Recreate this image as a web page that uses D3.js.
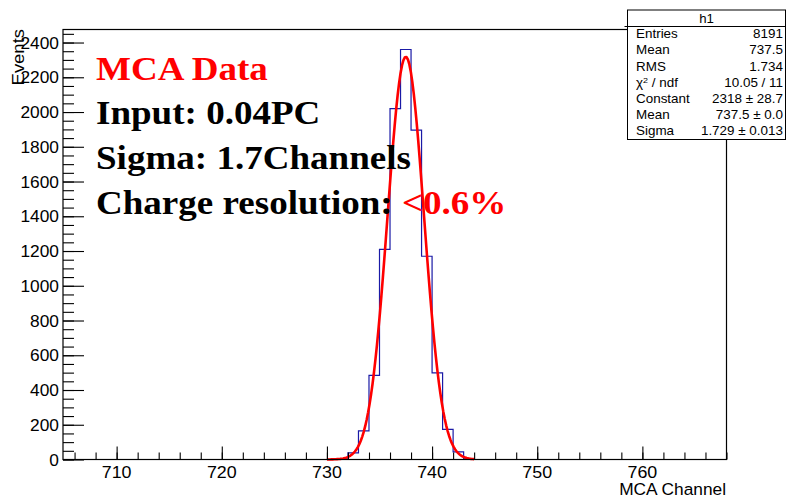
<!DOCTYPE html>
<html>
<head>
<meta charset="utf-8">
<script src="https://cdn.jsdelivr.net/npm/d3@7"></script>
<style>
  body { margin: 0; background: #fff; }
  svg { display: block; }
</style>
</head>
<body>
<div id="chart"></div>
<script>
// histogram bins (lower edge of each 1-channel bin) and their counts
const binLow = [731, 732, 733, 734, 735, 736, 737, 738, 739, 740, 741, 742, 743];
const counts = [3, 38, 165, 484, 1210, 2020, 2360, 1896, 1170, 499, 173, 44, 4];

// gaus fit parameters as shown in the stats box, and the fit range
const fitParams = { constant: 2318, mean: 737.5, sigma: 1.729 };
const fitRange = [730, 744];

const xTicks = [710, 720, 730, 740, 750, 760];
const yTicks = [0, 200, 400, 600, 800, 1000, 1200, 1400, 1600, 1800, 2000, 2200, 2400];

const statsLabels = ["Entries", "Mean", "RMS", "χ2 / ndf", "Constant", "Mean", "Sigma"];
const statsValues = ["8191", "737.5", "1.734", "10.05 / 11", "2318 ± 28.7", "737.5 ± 0.0", "1.729 ± 0.013"];

const W = 786, H = 499;
const m = { left: 63, right: 59.5, top: 29.5, bottom: 39.5 };
const sans = "'Liberation Sans', Arial, Helvetica, sans-serif";
const serif = "'Liberation Serif', 'Times New Roman', serif";

const svg = d3.select("#chart").append("svg")
    .attr("width", W)
    .attr("height", H)
    .style("background", "#fff");

const x = d3.scaleLinear().domain([704.9, 768]).range([m.left, W - m.right]);
const y = d3.scaleLinear().domain([0, 2475]).range([H - m.bottom, m.top]);

// text with a slight horizontal stretch, like the reference
function label(g, tx, ty, str, size, anchor, sx, family) {
    return g.append("text")
        .attr("transform", `translate(${tx},${ty}) scale(${sx},1)`)
        .attr("text-anchor", anchor)
        .style("font-family", family || sans)
        .style("font-size", size + "px")
        .text(str);
}

// histogram as one step outline (no inner bin walls)
const outline = [[x.domain()[0], 0]];
let prev = 0;
binLow.forEach((b, i) => {
    outline.push([b, prev]);
    outline.push([b, counts[i]]);
    prev = counts[i];
});
const lastEdge = binLow[binLow.length - 1] + 1;
outline.push([lastEdge, prev]);
outline.push([lastEdge, 0]);
outline.push([x.domain()[1], 0]);

svg.append("path")
    .attr("d", d3.line().x(d => x(d[0])).y(d => y(d[1]))(outline))
    .attr("fill", "none")
    .attr("stroke", "#1a1aa6")
    .attr("stroke-width", 1.2);

// fit curve, 100 points over the fit range like ROOT's TF1
const fitPts = d3.range(0, 101).map(i => {
    const xv = fitRange[0] + (fitRange[1] - fitRange[0]) * i / 100;
    const z = (xv - fitParams.mean) / fitParams.sigma;
    return [xv, fitParams.constant * Math.exp(-0.5 * z * z)];
});
svg.append("path")
    .attr("d", d3.line().x(d => x(d[0])).y(d => y(d[1]))(fitPts))
    .attr("fill", "none")
    .attr("stroke", "#ff0000")
    .attr("stroke-width", 2.6)
    .attr("stroke-linejoin", "round");

// frame
svg.append("rect")
    .attr("x", m.left).attr("y", m.top)
    .attr("width", W - m.left - m.right).attr("height", H - m.top - m.bottom)
    .attr("fill", "none").attr("stroke", "#000").attr("stroke-width", 1.2);

// x axis ticks
const xAxis = svg.append("g").attr("transform", `translate(0,${H - m.bottom})`);
xAxis.call(d3.axisBottom(x).tickValues(d3.range(706, 768.1, 2)).tickSize(-7).tickFormat(""))
    .call(g => g.select(".domain").remove());
xAxis.append("g").call(d3.axisBottom(x).tickValues(xTicks).tickSize(-13).tickFormat(""))
    .call(g => g.select(".domain").remove());
xAxis.selectAll("line").attr("stroke", "#000").attr("stroke-width", 1.1);
xTicks.forEach(t => label(svg, x(t), 477.5, t, 17, "middle", 1.05));

// y axis ticks
const yAxis = svg.append("g").attr("transform", `translate(${m.left},0)`);
yAxis.call(d3.axisLeft(y).tickValues(d3.range(0, 2451, 50)).tickSize(-11).tickFormat(""))
    .call(g => g.select(".domain").remove());
yAxis.append("g").call(d3.axisLeft(y).tickValues(yTicks).tickSize(-21).tickFormat(""))
    .call(g => g.select(".domain").remove());
yAxis.selectAll("line").attr("stroke", "#000").attr("stroke-width", 1.1);
yTicks.forEach(t => label(svg, 59, y(t) + 6, t, 16.5, "end", 1.05));

// axis titles
label(svg, 726, 495, "MCA Channel", 16.5, "end", 1.05);
svg.append("text")
    .attr("transform", `translate(24,29) rotate(-90) scale(1.12,1)`)
    .attr("text-anchor", "end")
    .style("font-family", sans)
    .style("font-size", "16.5px")
    .text("Events");

// annotation block
const note = svg.append("g").style("font-weight", "bold");
label(note, 96, 79.5, "MCA Data", 34, "start", 1.09, serif).attr("fill", "#ff0000");
label(note, 96, 123.5, "Input: 0.04PC", 34, "start", 1.09, serif);
label(note, 96, 168.5, "Sigma: 1.7Channels", 34, "start", 1.09, serif);
const cr = label(note, 96, 213.5, "", 34, "start", 1.09, serif);
cr.append("tspan").text("Charge resolution: ");
cr.append("tspan").attr("fill", "#ff0000").text("<0.6%");

// stats box
const box = { x0: 627.5, x1: 785.5, y0: 10, y1: 139.5, head: 26.5 };
const stats = svg.append("g");
stats.append("rect")
    .attr("x", box.x0).attr("y", box.y0)
    .attr("width", box.x1 - box.x0).attr("height", box.y1 - box.y0)
    .attr("fill", "#fff").attr("stroke", "#000").attr("stroke-width", 1);
stats.append("line")
    .attr("x1", box.x0 - 3).attr("x2", box.x1)
    .attr("y1", box.head).attr("y2", box.head)
    .attr("stroke", "#000").attr("stroke-width", 1);
label(stats, (box.x0 + box.x1) / 2, 23, "h1", 12, "middle", 1.1);
statsLabels.forEach((s, i) => {
    const by = 38.3 + i * 16.1;
    if (s.startsWith("χ2")) {
        const t = label(stats, 636, by, "", 12, "start", 1.12);
        t.append("tspan").text("χ");
        t.append("tspan").attr("dy", -4).style("font-size", "8px").text("2");
        t.append("tspan").attr("dy", 4).text(" / ndf");
    } else {
        label(stats, 636, by, s, 12, "start", 1.12);
    }
    label(stats, 783, by, statsValues[i], 12, "end", 1.12);
});
</script>
</body>
</html>
